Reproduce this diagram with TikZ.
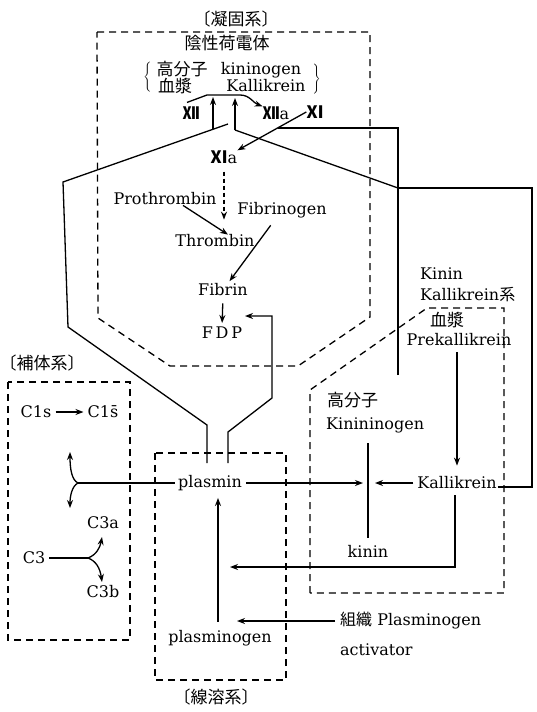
\documentclass[tikz,border=0pt]{standalone}
\usepackage{fontspec}
\setmainfont{DejaVu Serif}
\newfontfamily\jfont{Noto Sans CJK JP}
\newcommand\romnum[1]{{\fontsize{17}{19}\jfont\bfseries #1}}
\usepackage{tikz}
\usetikzlibrary{
  positioning,
  arrows.meta,
  calc
}

\begin{document}
\begin{tikzpicture}[
  x=1pt, y=-1pt,
  txt/.style={font=\fontsize{16}{19}\selectfont, inner sep=0pt},
  jtxt/.style={font=\fontsize{17}{20}\selectfont\jfont, inner sep=0pt},
  sysbox/.style={line width=1.3pt, dash pattern=on 7pt off 5pt},
  wire/.style={line width=1.3pt},
  flow/.style={line width=1.3pt, -{Stealth[length=8pt, width=6pt]}},
]
\useasboundingbox (0,0) rectangle (536,712);

% Gerinnung
\node[jtxt] (coagT) at (236,19) {〔凝固系〕};
\node[jtxt] (neg) at (227,43) {陰性荷電体};
\node[jtxt] (hmw) at (182,69) {高分子};
\node[txt] (kng) at (261,70) {kininogen};
\node[jtxt] (pls) at (175,86) {血漿};
\node[txt] (kal) at (266,86) {Kallikrein};
\node[txt] (brl) at (148,78) {$\left\{\rule[-12pt]{0pt}{26pt}\right.$};
\node[txt] (brr) at (316,80) {$\left.\rule[-12pt]{0pt}{26pt}\right\}$};

\node[txt] (f12) at (191,113) {\romnum{Ⅻ}};
\node[txt] (f12a) at (276,113) {\romnum{Ⅻ}a};
\node[txt] (f11) at (315,112) {\romnum{Ⅺ}};
\node[txt] (f11a) at (224,157) {\romnum{Ⅺ}a};

\node[txt] (pro) at (165,199) {Prothrombin};
\node[txt] (fbg) at (282,210) {Fibrinogen};
\node[txt] (thr) at (215,241) {Thrombin};
\node[txt] (fib) at (223,290) {Fibrin};
\node[txt] (fdp) at (222,333) {F\,D\,P};

\coordinate (up1b) at (213,129);
\coordinate (up1t) at (213,97);
\coordinate (up2b) at (235,130);
\coordinate (up2t) at (235,98);
\coordinate (ljx) at (228,124);
\coordinate (xj) at (278,128);
\coordinate (kj) at (398,188);
\coordinate (lys) at (245,316);

\draw[flow] ([xshift=-4pt,yshift=4pt]f12.north) -- (207,95) -- (240,95) to[out=0,in=160] (f12a.north west);
\draw[flow] (up1b) -- (up1t);
\draw[flow] (up2b) -- (up2t);
\draw[flow] (f11.west) -- (f11a.north east);
\draw[flow, dash pattern=on 4pt off 3pt, shorten <=8pt, shorten >=15pt] (f11a.south) -- (f11a.south |- thr.north);
\draw[flow] ([xshift=18pt]pro.south) -- ([xshift=13pt]thr.north);
\draw[flow, shorten <=9pt, shorten >=3pt] (fbg) -- (fib);
\draw[flow, shorten <=7pt, shorten >=4pt] (fib.south) -- (fdp.north);

% Systemgrenzen
\draw[sysbox] (97,32) -- (370,32) -- (370,317) -- (298,366) -- (170,366) -- (98,318) -- cycle;
\draw[sysbox] (310,593) -- (310,390) -- (427,308) -- (504,308) -- (504,593) -- cycle;
\draw[sysbox] (155,453) rectangle (286,680);
\draw[sysbox] (8,382) rectangle (130,640);

% Kinin-Kallikrein
\node[txt, anchor=west] (kk1) at (420,274) {Kinin};
\node[txt, anchor=west] (kk2) at (420,295) {Kallikrein{\jfont 系}};
\node[jtxt] (pls2) at (447,320) {血漿};
\node[txt] (pk) at (459,340) {Prekallikrein};
\node[jtxt, anchor=west] (hmw2) at (327,400) {高分子};
\node[txt, anchor=west] (kng2) at (326,425) {Kinininogen};
\node[txt] (kal2) at (457,483) {Kallikrein};
\node[txt] (kin) at (368,551) {kinin};

\coordinate (hk) at (398,375);
\coordinate (kt) at (368,443);
\coordinate (kb) at (368,538);
\coordinate (kpl) at (363,483);
\coordinate (kpr) at (375,483);

\draw[wire] (hk) -- (398,128) -- (xj);
\draw[wire] (up2b) -- (kj);
\draw[wire] ([xshift=1pt,yshift=-4pt]kal2.east) -- (532,487) |- (kj);
\draw[flow, shorten <=6pt, shorten >=11pt] (pk.south -| kal2.north) -- (kal2.north);
\draw[wire] (kt) -- (kb);
\draw[flow, shorten <=4pt] (kal2.west) -- (kpr);

% Fibrinolyse
\node[jtxt] (fibT) at (216,697) {〔線溶系〕};
\node[txt] (plm) at (210,483) {plasmin};
\node[txt] (pgn) at (220,638) {plasminogen};
\node[txt, anchor=west] (tpa) at (340,621) {{\jfont 組織}\ Plasminogen};
\node[txt, anchor=west] (act) at (340,650) {activator};

\coordinate (sL) at (207,463);
\coordinate (sR) at (228,463);
\coordinate (tpt) at (237,621);
\coordinate (pka) at (230,567);

\draw[wire] (sL) -- (207,425) -- (68,327) -- (63,182) -- (ljx);
\draw[flow] (sR) -- (228,432) -- (272,398) -- (272,316) -- (lys);
\draw[flow, shorten <=4pt] (plm.east) -- (kpl);
\draw[flow] ([xshift=-2pt,yshift=8pt]pgn.north) -- ([xshift=8pt,yshift=-7pt]plm.south);
\draw[flow, shorten <=5pt] (tpa.west) -- (tpt);
\draw[flow] ([xshift=-2pt,yshift=-6pt]kal2.south) |- (pka);

% Komplement
\node[jtxt] (cmpT) at (42,363) {〔補体系〕};
\node[txt] (c1s) at (36,412) {C1s};
\node[txt] (c1sb) at (103,412) {C1\={s}};
\node[txt] (c3) at (34,558) {C3};
\node[txt] (c3a) at (103,523) {C3a};
\node[txt] (c3b) at (103,592) {C3b};

\coordinate (yc) at (78,483);
\coordinate (ya) at (70,452);
\coordinate (yb) at (70,508);
\coordinate (c3j) at (88,558);
\coordinate (c3ta) at (102,537);
\coordinate (c3tb) at (102,582);

\draw[flow, shorten <=4pt, shorten >=4pt] (c1s) -- (c1sb);
\draw[wire, shorten <=3pt] (plm.west) -- (yc);
\draw[flow] (yc) .. controls (72,480) and (70,470) .. (ya);
\draw[flow] (yc) .. controls (72,486) and (70,496) .. (yb);
\draw[wire, shorten <=4pt] (c3.east) -- (c3j);
\draw[flow] (c3j) .. controls (96,555) and (100,548) .. (c3ta);
\draw[flow] (c3j) .. controls (96,561) and (100,568) .. (c3tb);

\end{tikzpicture}
\end{document}
